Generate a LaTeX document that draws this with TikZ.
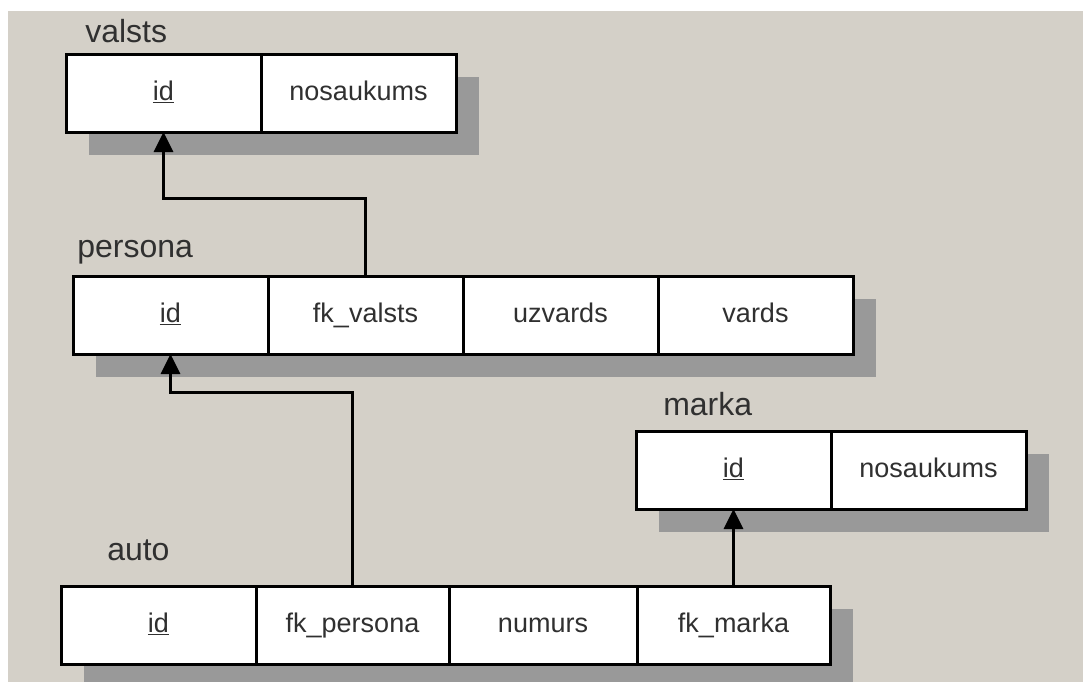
\documentclass[tikz,border=0pt]{standalone}
\usepackage{fontspec}
\setmainfont{Liberation Sans}
\usetikzlibrary{positioning,arrows.meta,backgrounds,calc}
\definecolor{bgcol}{HTML}{D4D0C8}
\definecolor{shadowcol}{HTML}{999999}
\definecolor{txtcol}{HTML}{303030}

\begin{document}
\begin{tikzpicture}[x=0.75pt,y=0.75pt,yscale=-1,xscale=1,
    cell/.style={draw=black,fill=white,line width=2.25pt,outer sep=0pt,inner sep=0pt,minimum width=146.25pt,minimum height=58.5pt,text height=10.5pt,text depth=0pt,text=txtcol,font=\fontsize{20.25}{24}\selectfont},
    title/.style={anchor=base west,inner sep=0pt,text=txtcol,font=\fontsize{24}{28}\selectfont},
    fk/.style={line width=2.25pt,-{Triangle[width=14.25pt,length=15pt]}}]
    \useasboundingbox (0,0) rectangle (1083,682);
    % valsts
    \node [title] (tvalsts) at (85,42) {valsts};
    \node [cell,anchor=north west] (vid) at (66,54) {\underline{id}};
    \node [cell,right=0pt of vid] (vnos) {nosaukums};
    % persona
    \node [title] (tpersona) at (77,257) {persona};
    \node [cell,anchor=north west] (pid) at (73,276) {\underline{id}};
    \node [cell,right=0pt of pid] (pfk) {fk\_valsts};
    \node [cell,right=0pt of pfk] (puzv) {uzvards};
    \node [cell,right=0pt of puzv] (pvards) {vards};
    % marka
    \node [title] (tmarka) at (663,415) {marka};
    \node [cell,anchor=north west] (mid) at (636,431) {\underline{id}};
    \node [cell,right=0pt of mid] (mnos) {nosaukums};
    % auto
    \node [title] (tauto) at (107,560) {auto};
    \node [cell,anchor=north west] (aid) at (61,586) {\underline{id}};
    \node [cell,minimum width=144.75pt,right=0pt of aid] (afk) {fk\_persona};
    \node [cell,minimum width=141pt,right=0pt of afk] (anum) {numurs};
    \node [cell,minimum width=144.75pt,right=0pt of anum] (amk) {fk\_marka};
    % sasaistes
    \draw [fk] (pfk.north) -- ++(0,-78) -| (vid.south);
    \draw [fk] (afk.north) -- ++(0,-194) -| (pid.south);
    \draw [fk] (amk.north) -- (amk.north |- mid.south);
    % fons un enas
    \begin{scope}[on background layer]
        \fill [bgcol] (8,11) rectangle (1083,682);
        \fill [shadowcol] ($(vid.north west)+(23,23)$) rectangle ($(vnos.south east)+(23,23)$);
        \fill [shadowcol] ($(pid.north west)+(23,23)$) rectangle ($(pvards.south east)+(23,23)$);
        \fill [shadowcol] ($(mid.north west)+(23,23)$) rectangle ($(mnos.south east)+(23,23)$);
        \fill [shadowcol] ($(aid.north west)+(23,23)$) rectangle ($(amk.south east)+(23,23)$);
    \end{scope}
\end{tikzpicture}
\end{document}
